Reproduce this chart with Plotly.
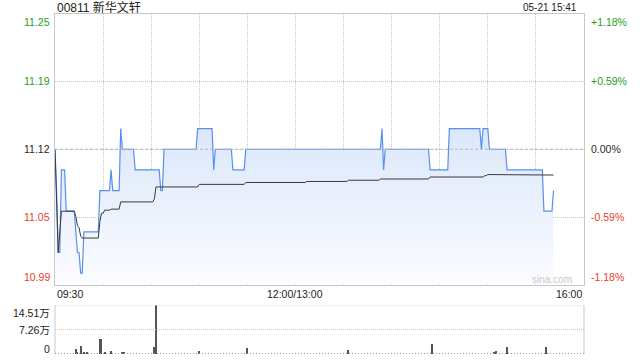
import plotly.graph_objects as go

# ---------------- data ----------------
title_text = "00811 新华文轩"
date_text = "05-21 15:41"
prev_close = 11.12

# minute index since 09:30 (trading minutes, lunch removed), price at that minute (held until next change)
price_change_minutes = [0, 1, 2, 4, 7, 13, 14, 16, 18, 28, 35, 36, 41, 42, 50, 66, 68, 89, 99, 100,
                        111, 119, 204, 205, 206, 234, 246, 266, 267, 271, 282, 305, 311]
price_change_values = [11.12, 11.08, 11.02, 11.10, 11.06, 11.04, 11.02, 11.00, 11.04, 11.08, 11.10, 11.08,
                       11.14, 11.12, 11.10, 11.08, 11.12, 11.14, 11.10, 11.12, 11.10, 11.12, 11.14, 11.10,
                       11.12, 11.10, 11.14, 11.12, 11.14, 11.12, 11.10, 11.06, 11.08]

avg_change_minutes = [0, 1, 2, 3, 4, 13, 14, 15, 16, 17, 28, 29, 31, 35, 41, 62, 63, 90, 119, 157,
                      183, 203, 234, 268, 270, 305]
avg_change_values = [11.12, 11.06, 11.02, 11.04, 11.060, 11.055, 11.046, 11.044, 11.036, 11.034, 11.050,
                     11.058, 11.061, 11.062, 11.069, 11.072, 11.0835, 11.086, 11.0878, 11.0888, 11.0900,
                     11.0912, 11.0931, 11.0944, 11.0955, 11.0950]

last_minute = 311

vol_minutes = [13, 14, 16, 18, 20, 28, 29, 31, 35, 42, 43, 62, 63, 90, 120, 183, 235, 274, 275, 282, 306]
vol_values = [1.4, 0.6, 2.3, 0.4, 0.3, 4.4, 4.4, 0.5, 0.8, 0.4, 0.3, 2.0, 14.51, 0.8, 1.8, 1.0, 2.9, 0.3,
              0.8, 2.1, 2.0]  # 万

price_tick_vals = [10.989, 11.054, 11.12, 11.186, 11.251]
price_tick_text = ["10.99", "11.05", "11.12", "11.19", "11.25"]
pct_tick_text = ["-1.18%", "-0.59%", "0.00%", "+0.59%", "+1.18%"]
vol_tick_vals = [0, 7.26, 14.51]
vol_tick_text = ["0", "7.26万", "14.51万"]
time_labels = ["09:30", "12:00/13:00", "16:00"]
time_label_minutes = [0, 150, 330]


def hold(change_minutes, change_values, n):
    out = []
    j = 0
    for t in range(n + 1):
        while j + 1 < len(change_minutes) and change_minutes[j + 1] <= t:
            j += 1
        out.append(change_values[j])
    return out


minutes = list(range(last_minute + 1))
price = hold(price_change_minutes, price_change_values, last_minute)
avg = hold(avg_change_minutes, avg_change_values, last_minute)

# ---------------- style ----------------
FONT = "Liberation Sans, Arial, Noto Sans CJK SC, sans-serif"
GREEN = "#1f9e1f"
RED = "#ee3a2c"
DARK = "#2a2a2a"
GRID = "#c8c8c8"
BORDER = "#c8c8c8"

fig = go.Figure()

fig.add_trace(go.Scatter(
    x=minutes, y=price, mode="lines",
    line=dict(color="#5590ee", width=1.2),
    fill="tozeroy",
    fillgradient=dict(type="vertical",
                      colorscale=[[0, "#fbfcff"], [1, "#dbe7fa"]],
                      start=10.989, stop=11.14),
    xaxis="x", yaxis="y", hoverinfo="skip", showlegend=False,
))
fig.add_trace(go.Scatter(
    x=minutes, y=avg, mode="lines",
    line=dict(color="#3a3a3a", width=1),
    xaxis="x", yaxis="y", hoverinfo="skip", showlegend=False,
))
fig.add_trace(go.Bar(
    x=vol_minutes, y=vol_values, width=0.62,
    marker=dict(color="#555555", line=dict(width=0)),
    xaxis="x2", yaxis="y2", hoverinfo="skip", showlegend=False,
))

main_bottom = 0.2044
vol_top = 0.1432

fig.update_layout(
    width=640, height=360,
    margin=dict(l=55, r=56, t=14, b=6),
    paper_bgcolor="white", plot_bgcolor="white",
    font=dict(family=FONT, size=10, color=DARK),
    bargap=0,
    xaxis=dict(range=[0, 330], domain=[0, 1], anchor="y",
               showline=True, mirror=True, linecolor=BORDER, linewidth=1,
               showgrid=True, gridcolor=GRID, griddash="1px,1px", gridwidth=1,
               tickvals=list(range(0, 331, 30)), showticklabels=False, ticks="",
               zeroline=False, fixedrange=True),
    yaxis=dict(range=[10.989, 11.251], domain=[main_bottom, 1], anchor="x",
               showline=True, mirror=True, linecolor=BORDER, linewidth=1,
               showgrid=True, gridcolor=GRID, griddash="1px,1px", gridwidth=1,
               tickvals=price_tick_vals, showticklabels=False, ticks="",
               zeroline=False, fixedrange=True),
    xaxis2=dict(range=[0, 330], domain=[0, 1], anchor="y2",
                showline=False, showgrid=False, showticklabels=False, ticks="",
                zeroline=False, fixedrange=True),
    yaxis2=dict(range=[0, 14.51], domain=[0, vol_top], anchor="x2",
                showline=False, showgrid=False, showticklabels=False, ticks="",
                zeroline=False, fixedrange=True),
)

shapes = []
# 0.00% line slightly darker
shapes.append(dict(type="line", xref="x domain", yref="y", x0=0, x1=1, y0=prev_close, y1=prev_close,
                   line=dict(color="#b8b8b8", width=1, dash="3px,2px")))
# volume panel frame
for xv in (0, 1):
    shapes.append(dict(type="line", xref="x2 domain", yref="y2 domain", x0=xv, x1=xv, y0=0, y1=1,
                       line=dict(color=BORDER, width=1)))
for yv in (14.51, 7.26):
    shapes.append(dict(type="line", xref="x2 domain", yref="y2", x0=0, x1=1, y0=yv, y1=yv,
                       line=dict(color=GRID, width=1, dash="1px,1px")))
shapes.append(dict(type="line", xref="x2 domain", yref="y2", x0=0, x1=1, y0=0.15, y1=0.15,
                   line=dict(color="#999999", width=1, dash="1px,2px")))
fig.update_layout(shapes=shapes)

ann = []
# title and date
ann.append(dict(text=title_text, xref="paper", yref="y domain", x=0, y=1, xanchor="left", yanchor="middle",
                yshift=7, showarrow=False, font=dict(size=12, color="#222")))
ann.append(dict(text=date_text, xref="paper", yref="y domain", x=1, y=1, xanchor="right", yanchor="middle",
                xshift=-5, yshift=7, showarrow=False, font=dict(size=10, color="#222")))


def price_color(v):
    if v > prev_close + 1e-6:
        return GREEN
    if v < prev_close - 1e-6:
        return RED
    return DARK


for i, (v, lt, rt) in enumerate(zip(price_tick_vals, price_tick_text, pct_tick_text)):
    if i == 0:
        ya = "bottom"
    elif i == len(price_tick_vals) - 1:
        ya = "top"
    else:
        ya = "middle"
    c = price_color(v)
    ann.append(dict(text=lt, xref="paper", yref="y", x=0, y=v, xanchor="right", yanchor=ya,
                    xshift=-3, showarrow=False, font=dict(size=10.5, color=c)))
    ann.append(dict(text=rt, xref="paper", yref="y", x=1, y=v, xanchor="left", yanchor=ya,
                    xshift=5, showarrow=False, font=dict(size=10.5, color=c)))

# time labels
for lbl, m in zip(time_labels, time_label_minutes):
    xa = "left" if m == 0 else ("right" if m == 330 else "center")
    ann.append(dict(text=lbl, xref="x", yref="y domain", x=m, y=0, xanchor=xa, yanchor="middle",
                    yshift=-9, showarrow=False, font=dict(size=10.5, color="#222")))

# volume labels
for v, t in zip(vol_tick_vals, vol_tick_text):
    if v == 0:
        ya, ys = "middle", 5
    elif v == max(vol_tick_vals):
        ya, ys = "top", 0
    else:
        ya, ys = "middle", 0
    ann.append(dict(text=t, xref="paper", yref="y2", x=0, y=v, xanchor="right", yanchor=ya,
                    xshift=-3, yshift=ys, showarrow=False, font=dict(size=10.5, color="#222")))

# watermark
ann.append(dict(text="sina.com", xref="x", yref="y", x=310, y=10.994, xanchor="center", yanchor="middle",
                showarrow=False, font=dict(size=10, color="#c8c8c8")))

fig.update_layout(annotations=ann)

fig.write_html("out.html", config={"displayModeBar": False})
